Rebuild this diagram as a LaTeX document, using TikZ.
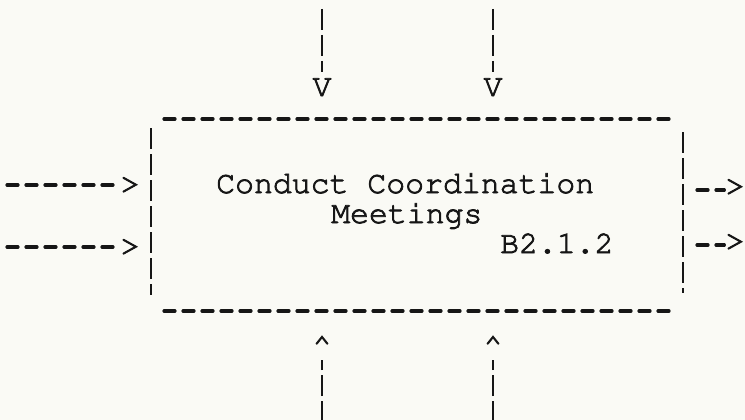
\documentclass[tikz,border=0pt]{standalone}
\usepackage[T1,TU]{fontenc}
\newcommand\courfont{\fontencoding{T1}\fontfamily{pcr}\fontseries{m}\fontshape{n}\selectfont}
\newcommand\heavytext[1]{\special{pdf:literal direct 2 Tr 0.8 w}#1\special{pdf:literal direct 0 Tr}}
\definecolor{paper}{RGB}{250,250,245}
\definecolor{ink}{RGB}{22,22,22}
\begin{document}
\begin{tikzpicture}[x=1pt,y=-1pt,
  txt/.style={font=\courfont\fontsize{31.5}{30}\selectfont, inner sep=0pt, text=ink},
  hdash/.style={draw=ink, line width=3.2pt, line cap=round, dash pattern=on 11pt off 8pt},
  vdash/.style={draw=ink, line width=2pt, dash pattern=on 21pt off 5pt},
]
\fill[paper] (0,0) rectangle (745,420);
\useasboundingbox (0,0) rectangle (745,420);

% box
\coordinate (bTL) at (164,119); \coordinate (bTR) at (672,119);
\coordinate (bBL) at (164,311); \coordinate (bBR) at (672,311);
\coordinate (bL1) at (151,128); \coordinate (bL2) at (151,295);
\coordinate (bR1) at (683,132); \coordinate (bR2) at (683,293);
\draw[hdash] (bTL) -- (bTR);
\draw[hdash] (bBL) -- (bBR);
\draw[vdash] (bL1) -- (bL2);
\draw[vdash] (bR1) -- (bR2);

% label
\node[txt, anchor=base west] (l1) at (216,193) {\heavytext{Conduct Coordination}};
\node[txt, anchor=base west] (l2) at (331,223) {\heavytext{Meetings}};
\node[txt, anchor=base west] (l3) at (500,253) {\heavytext{B2.1.2}};

% top arrows
\coordinate (st1) at (322,9); \coordinate (st2) at (493,9);
\node[txt] (vt1) at (322,87.5) {\heavytext{V}};
\node[txt] (vt2) at (493,87.5) {\heavytext{V}};
\draw[vdash, shorten >=6pt] (st1) -- (vt1.north);
\draw[vdash, shorten >=6pt] (st2) -- (vt2.north);

% bottom arrows
\coordinate (sb1) at (322,422); \coordinate (sb2) at (493,422);
\node[txt, anchor=north] (cu1) at (322,335) {\heavytext{\textasciicircum}};
\node[txt, anchor=north] (cu2) at (493,335) {\heavytext{\textasciicircum}};
\draw[vdash, shorten >=25pt] (sb1) -- (cu1.north);
\draw[vdash, shorten >=25pt] (sb2) -- (cu2.north);

% left arrows
\coordinate (la1s) at (7,185); \coordinate (la2s) at (7,247);
\node[txt, anchor=north] (la1h) at (130,178) {\heavytext{>}};
\node[txt, anchor=north] (la2h) at (130,240) {\heavytext{>}};
\draw[hdash, shorten >=3pt] (la1s) -- (la1s -| la1h.west);
\draw[hdash, shorten >=3pt] (la2s) -- (la2s -| la2h.west);

% right arrows
\coordinate (ra1s) at (697,190); \coordinate (ra2s) at (697,245);
\node[txt, anchor=north] (ra1h) at (735,180) {\heavytext{>}};
\node[txt, anchor=north] (ra2h) at (735,235) {\heavytext{>}};
\draw[hdash, shorten >=1pt] (ra1s) -- (ra1s -| ra1h.west);
\draw[hdash, shorten >=1pt] (ra2s) -- (ra2s -| ra2h.west);
\end{tikzpicture}
\end{document}
